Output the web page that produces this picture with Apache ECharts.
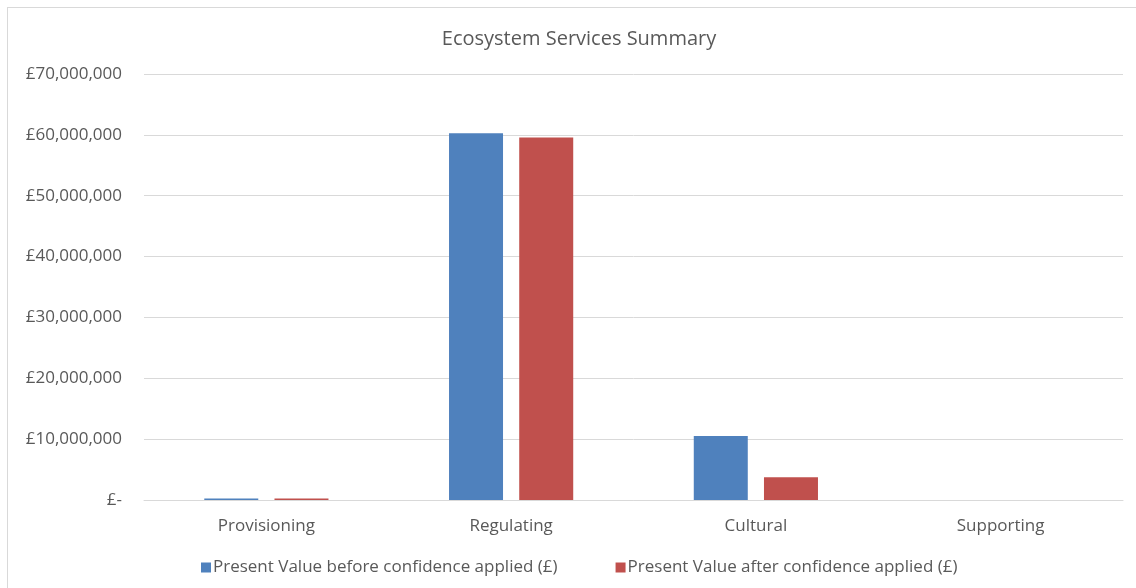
<!DOCTYPE html>
<html>
<head>
<meta charset="utf-8">
<script src="https://cdn.jsdelivr.net/npm/echarts@6/dist/echarts.min.js"></script>
<style>
html,body{margin:0;padding:0;background:#fff;}
#frame{position:absolute;left:7px;top:7px;width:1140px;height:600px;border:1px solid #d9d9d9;box-sizing:border-box;}
#chart{position:absolute;left:0;top:0;width:1136px;height:588px;}
</style>
</head>
<body>
<div id="frame"></div>
<div id="chart"></div>
<script>
var categories = ['Provisioning', 'Regulating', 'Cultural', 'Supporting'];
var seriesNames = ['Present Value before confidence applied (£)', 'Present Value after confidence applied (£)'];
var beforeValues = [250000, 60280000, 10500000, 0];
var afterValues = [240000, 59560000, 3730000, 0];
var yTicks = [0, 10000000, 20000000, 30000000, 40000000, 50000000, 60000000, 70000000];

var FONT = "'Open Sans', sans-serif";
var chart = echarts.init(document.getElementById('chart'));
function fmt(v) {
  if (v === 0) return '£-';
  return '£' + v.toString().replace(/\B(?=(\d{3})+(?!\d))/g, ',');
}
chart.setOption({
  animation: false,
  title: {
    text: 'Ecosystem Services Summary',
    left: 574, top: 24, textAlign: 'center',
    textStyle: { fontFamily: FONT, fontSize: 20, fontWeight: 'normal', color: '#595959' }
  },
  legend: {
    bottom: 7, left: 196,
    itemWidth: 10, itemHeight: 10, itemGap: 58, icon: 'rect',
    textStyle: { fontFamily: FONT, fontSize: 17, color: '#595959', padding: [0, 0, 0, -3] },
    data: seriesNames
  },
  grid: { left: 144, right: 13, top: 74, bottom: 88, containLabel: false },
  xAxis: {
    type: 'category', data: categories,
    axisLine: { lineStyle: { color: '#d9d9d9' } },
    axisTick: { show: false },
    axisLabel: { fontFamily: FONT, fontSize: 17, color: '#595959', margin: 18 }
  },
  yAxis: {
    type: 'value', min: yTicks[0], max: yTicks[yTicks.length - 1], interval: yTicks[1] - yTicks[0],
    axisLine: { show: false }, axisTick: { show: false },
    splitLine: { lineStyle: { color: '#d9d9d9' } },
    axisLabel: { fontFamily: FONT, fontSize: 17, color: '#595959', margin: 22, formatter: fmt }
  },
  series: [
    { name: seriesNames[0], type: 'bar', data: beforeValues, barWidth: 54, barGap: '30%',
      itemStyle: { color: '#4f81bd' } },
    { name: seriesNames[1], type: 'bar', data: afterValues, barWidth: 54,
      itemStyle: { color: '#c0504d' } }
  ]
});
</script>
</body>
</html>
